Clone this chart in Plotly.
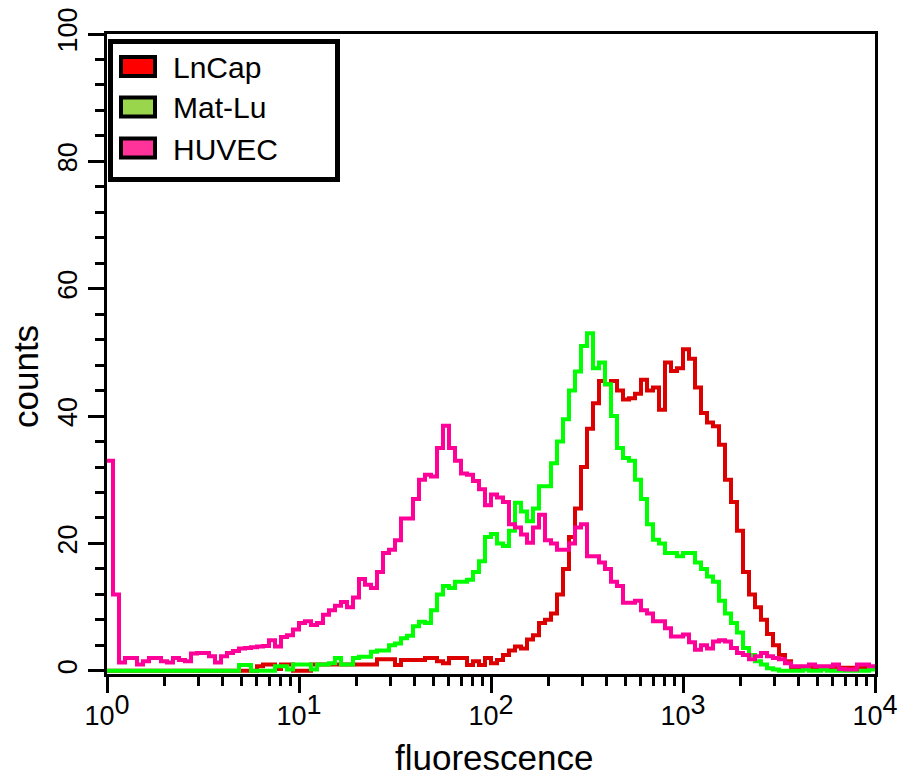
import numpy as np
import plotly.graph_objects as go

# 128 log-spaced channels covering 10^0 .. 10^4
n_channels = 128
decades = 4

lncap = [
    0, 0, 0, 0, 0, 0, 0, 0, 0, 0, 0, 0, 0, 0, 0, 0,
    0, 0, 0, 0, 0, 0, 0, 0, 0, 0.7, 1.0, 1.0, 0.3, 1.0, 1.0, 0,
    0, 0, 1.0, 1.0, 1.0, 1.0, 1.0, 1.0, 1.0, 1.0, 1.0, 1.0, 1.0, 1.8, 1.8, 1.8,
    0.9, 1.7, 1.7, 1.7, 1.7, 2.0, 2.0, 1.5, 1.2, 2.0, 2.0, 2.0, 0.9, 1.5, 0.9, 2.0,
    1.2, 1.7, 2.5, 3.2, 3.8, 3.5, 4.9, 5.6, 7.5, 8.0, 9, 12, 16, 21, 25.5, 32,
    38, 42, 45.5, 45, 45.5, 44, 42.6, 42.8, 43.5, 45.7, 44, 44.5, 41, 48.4, 47.1, 47.5,
    50.5, 49, 44.5, 40.5, 39, 38.4, 35.5, 30, 26.5, 22, 15.5, 12, 10, 8, 5.8, 4,
    2.5, 1.5, 0.5, 0.5, 0.5, 0.5, 0.5, 0.5, 0.5, 0.5, 0.5, 0.5, 0.5, 0.5, 0.5, 0.5,
]

matlu = [
    0, 0, 0, 0, 0, 0, 0, 0, 0, 0, 0, 0, 0, 0, 0, 0,
    0, 0, 0, 0, 0, 0, 0.9, 0.9, 0, 0, 0, 0, 0.7, 0.7, 0.2, 1.0,
    1.0, 1.0, 0.2, 1.0, 1.0, 1.2, 2.0, 1.0, 1.0, 2.0, 2.2, 2.2, 3.0, 3.2, 3.2, 4.0,
    4.3, 5.1, 5.5, 7.0, 7.7, 7.5, 9.5, 12, 13.3, 13, 14, 14, 14.3, 15.5, 17.2, 21,
    21.5, 20, 19.6, 22, 26.4, 25, 23.5, 25.5, 29, 29, 32.6, 36, 39.5, 44, 47, 51,
    53, 47.5, 48.4, 45, 40, 35, 33.4, 33, 30, 27, 23, 20.6, 20, 18.5, 18.5, 18,
    18.5, 18.5, 17, 16, 14.8, 14, 11, 9, 7.5, 6, 3.6, 2.5, 1.5, 1.0, 0.4, 0.2,
    0, 0, 0, 0, 0.2, 0, 0, 0.2, 0, 0, 0, 0, 0, 0, 0, 0.2,
]

huvec = [
    33, 12, 1.3, 2.0, 2.0, 1.0, 1.5, 2.0, 2.0, 1.5, 1.3, 2.0, 1.7, 1.5, 2.7, 2.8,
    2.8, 2.3, 1.3, 2.3, 2.8, 3.1, 3.5, 3.6, 3.7, 3.8, 3.9, 4.8, 3.8, 5.3, 5.6, 6.5,
    7.5, 7.8, 7.2, 7.5, 8.8, 9.5, 10.2, 10.8, 10.0, 11.5, 14.4, 13.5, 13.0, 15.5, 18.5, 19,
    20.5, 23.9, 23.9, 27, 30, 30.8, 30.5, 35, 38.5, 35, 33, 31, 30.8, 29.8, 28.5, 26,
    27.7, 27.2, 26.5, 23, 22.5, 21.4, 20.1, 22.5, 24.5, 20.5, 20, 19, 19, 20, 22.5, 23,
    18, 18, 17, 16, 14, 13.3, 10.7, 10.7, 11, 9.5, 9, 7.8, 7.8, 6.7, 5.4, 5.4,
    5.7, 4.5, 3.3, 4, 3.5, 4.6, 4.8, 4.6, 3.6, 2.8, 2.5, 1.8, 2.3, 2.8, 2.3, 2,
    1.8, 1.2, 0.7, 0.7, 0.7, 1.0, 0.7, 0.7, 0.7, 1.0, 0.3, 0.2, 0.2, 1.0, 1.0, 0.7,
]

series_names = ["LnCap", "Mat-Lu", "HUVEC"]
line_colors = ["#DD0000", "#00FF00", "#FF0099"]
swatch_colors = ["#FF0000", "#99D64C", "#FF3399"]

x_tickvals = [1, 10, 100, 1000, 10000]
x_ticktext = ['10<sup><span style="font-size:27px">%d</span></sup>' % k for k in range(5)]
x_minor = [m * 10 ** d for d in range(4) for m in range(2, 10)]
y_tickvals = [0, 20, 40, 60, 80, 100]

edges = 10 ** (np.arange(n_channels + 1) * decades / n_channels)

fig = go.Figure()
for name, vals, col in zip(series_names, [lncap, matlu, huvec], line_colors):
    assert len(vals) == n_channels
    fig.add_trace(go.Scatter(
        x=edges, y=list(vals) + [vals[-1]], mode="lines", name=name,
        line=dict(color=col, width=4, shape="hv"), showlegend=False,
        hoverinfo="skip",
    ))

W, H = 899, 778
L, R, T, B = 107, 875, 34, 674

def px(x):
    return (x - L) / (R - L)

def py(y):
    return (B - y) / (B - T)

tick_font = dict(family="Liberation Sans Narrow, Arial Narrow, Arial", size=27, color="black")

fig.update_layout(
    width=W, height=H,
    margin=dict(l=L, r=W - R, t=T, b=H - B, autoexpand=False),
    paper_bgcolor="white", plot_bgcolor="white",
    xaxis=dict(
        type="log", range=[0, 4], showgrid=False, zeroline=False,
        showline=True, linecolor="black", linewidth=3, mirror=True,
        ticks="outside", ticklen=16, tickwidth=3, tickcolor="black",
        tickmode="array", tickvals=x_tickvals, ticktext=x_ticktext,
        tickfont=tick_font,
        minor=dict(tickmode="array", tickvals=x_minor, ticks="outside",
                   ticklen=9, tickwidth=3, tickcolor="black", showgrid=False),
    ),
    yaxis=dict(
        range=[-0.5, 100], showgrid=False, zeroline=False,
        showline=True, linecolor="black", linewidth=3, mirror=True,
        ticks="outside", ticklen=16, tickwidth=3, tickcolor="black",
        tickmode="array", tickvals=y_tickvals, tickangle=-90,
        tickfont=tick_font,
        minor=dict(dtick=4, tick0=0, ticks="outside", ticklen=9,
                   tickwidth=3, tickcolor="black", showgrid=False),
    ),
)

title_font = dict(family="Liberation Sans, Arial", size=35, color="black")
fig.add_annotation(text="fluorescence", xref="paper", yref="paper",
                   x=px(494), y=py(757), showarrow=False, font=title_font,
                   xanchor="center", yanchor="middle")
fig.add_annotation(text="counts", xref="paper", yref="paper",
                   x=px(25), y=py(377), showarrow=False, font=title_font,
                   textangle=-90, xanchor="center", yanchor="middle")

# legend box
fig.add_shape(type="rect", xref="paper", yref="paper",
              x0=px(110.5), x1=px(337.5), y0=py(179.5), y1=py(41.5),
              line=dict(color="black", width=5), fillcolor="white", layer="above")
row_centers = [66.5, 107, 148]
for name, sc, yc in zip(series_names, swatch_colors, row_centers):
    fig.add_shape(type="rect", xref="paper", yref="paper",
                  x0=px(121), x1=px(155), y0=py(yc + 9.5), y1=py(yc - 9.5),
                  line=dict(color="black", width=4), fillcolor=sc, layer="above")
    fig.add_annotation(text=name, xref="paper", yref="paper",
                       x=px(171), y=py(yc + 1), showarrow=False,
                       xanchor="left", yanchor="middle",
                       font=dict(family="Liberation Sans, Arial", size=30, color="black"))

fig.write_html("out.html",
               config={"displayModeBar": False, "staticPlot": True},
               post_script="document.body.style.margin='0';document.body.style.overflow='hidden';")
